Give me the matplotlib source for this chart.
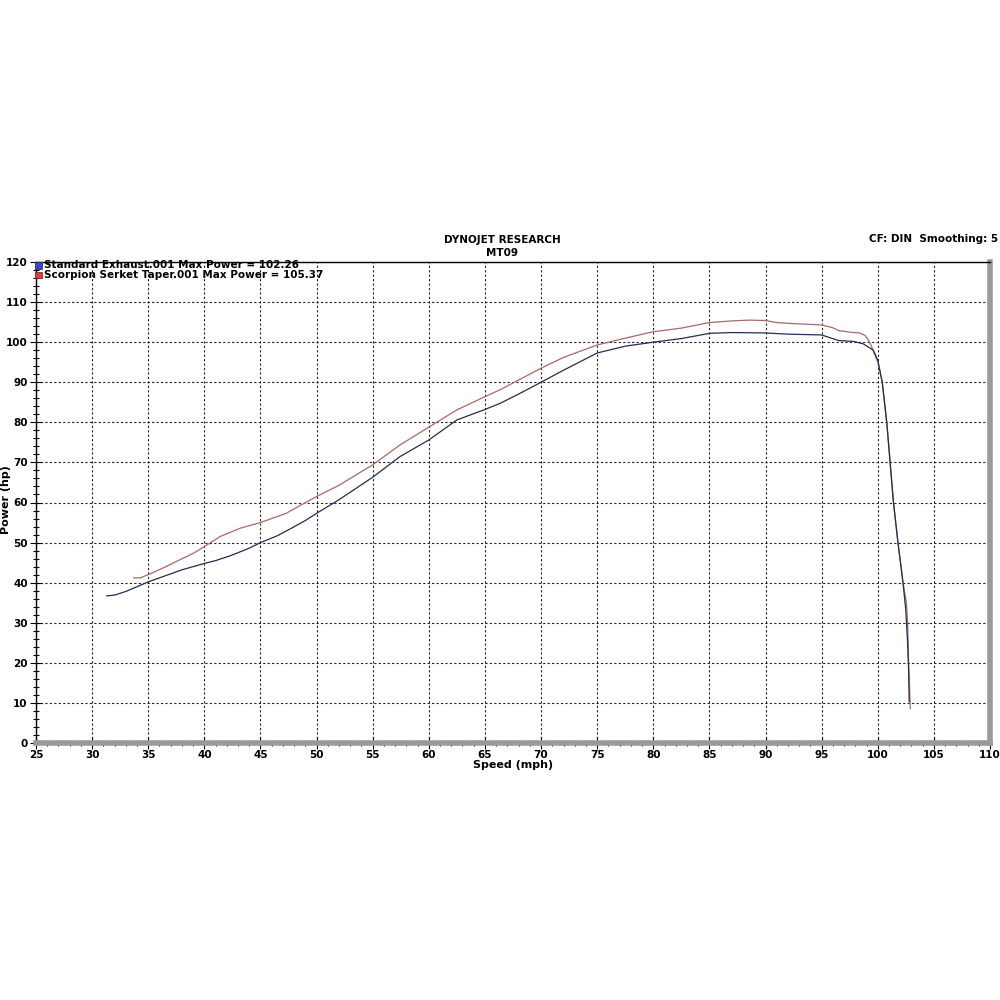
# dyno chart: power vs speed, standard vs Scorpion exhaust
import matplotlib
matplotlib.use("Agg")
import matplotlib.pyplot as plt
from matplotlib.ticker import MultipleLocator
from matplotlib.patches import Rectangle

# standard exhaust run
std_speed = [31.3, 32.0, 33.0, 34.0, 35.0, 36.0, 37.0, 38.0, 40.0, 41.0, 42.3, 44.0,
             45.0, 46.5, 47.9, 49.0, 50.0, 52.0, 53.5, 55.0, 57.4, 60.0, 62.5, 65.0,
             66.4, 68.1, 70.0, 72.0, 75.0, 77.5, 80.0, 82.5, 85.0, 87.0, 90.0, 92.0,
             95.0, 96.5, 97.8, 98.7, 99.6, 100.0, 100.4, 100.8, 101.1, 101.4, 101.8,
             102.25, 102.5, 102.66, 102.75, 102.8]
std_power = [36.7, 36.9, 37.8, 39.0, 40.2, 41.2, 42.2, 43.2, 44.8, 45.5, 46.7, 48.6,
             50.0, 51.7, 53.8, 55.5, 57.3, 60.7, 63.5, 66.3, 71.4, 75.6, 80.6, 83.2,
             84.8, 87.2, 90.0, 93.0, 97.3, 99.0, 100.0, 100.9, 102.2, 102.4, 102.3, 102.0,
             101.8, 100.4, 100.2, 99.6, 98.0, 95.5, 90.0, 80.0, 70.0, 60.0, 50.0,
             40.0, 33.0, 25.0, 18.0, 10.3]

# scorpion serket taper run
sc_speed = [33.7, 34.3, 35.0, 36.5, 37.8, 39.0, 40.0, 41.4, 43.2, 45.0, 46.0, 47.3,
            48.5, 50.0, 52.0, 55.0, 57.4, 60.0, 62.5, 65.0, 66.4, 68.1, 70.0, 72.0,
            75.0, 77.5, 80.0, 82.5, 85.0, 87.0, 88.5, 90.0, 91.0, 92.0, 93.5, 95.0,
            96.0, 96.5, 97.5, 98.4, 98.9, 99.3, 100.0, 100.4, 100.8, 101.1, 101.4,
            101.8, 102.25, 102.55, 102.66, 102.75, 102.9]
sc_power = [41.2, 41.2, 42.0, 43.9, 45.7, 47.3, 49.0, 51.5, 53.6, 55.0, 56.0, 57.3,
            59.2, 61.5, 64.3, 69.4, 74.3, 78.8, 83.1, 86.4, 88.2, 90.7, 93.5, 96.2,
            99.3, 101.0, 102.6, 103.5, 104.9, 105.3, 105.5, 105.4, 104.9, 104.7, 104.5, 104.3,
            103.6, 102.9, 102.5, 102.3, 101.6, 99.9, 95.1, 90.0, 80.0, 70.0, 60.0,
            50.0, 40.0, 35.0, 30.0, 20.0, 8.6]

legend_labels = ["Standard Exhaust.001 Max Power = 102.26",
                 "Scorpion Serket Taper.001 Max Power = 105.37"]

fig = plt.figure(figsize=(10, 10), dpi=100)
ax = fig.add_axes([0.036, 0.257, 0.954, 0.481])

ax.plot(std_speed, std_power, color="#272a58", lw=0.9, zorder=3)
ax.plot(sc_speed, sc_power, color="#a86a66", lw=0.9, zorder=2)

ax.set_xlim(25, 110)
ax.set_ylim(0, 120)
ax.xaxis.set_major_locator(MultipleLocator(5))
ax.xaxis.set_minor_locator(MultipleLocator(1))
ax.yaxis.set_major_locator(MultipleLocator(10))
ax.yaxis.set_minor_locator(MultipleLocator(2))
ax.grid(True, which="major", color="#222222", linestyle=(0, (2, 2)), lw=0.8)
ax.set_axisbelow(True)

ax.tick_params(which="both", direction="inout", color="black", width=0.8,
               labelsize=7.5, pad=1)
ax.tick_params(which="major", length=8)
ax.tick_params(which="minor", length=5)
ax.tick_params(axis="y", pad=2)
for lab in ax.get_xticklabels() + ax.get_yticklabels():
    lab.set_fontweight("bold")

for side in ["left", "top"]:
    ax.spines[side].set_color("black")
    ax.spines[side].set_linewidth(1.0)
for side in ["bottom", "right"]:
    ax.spines[side].set_color("#9a9a9a")
    ax.spines[side].set_linewidth(4)

ax.set_xlabel("Speed (mph)", fontsize=8, fontweight="bold", labelpad=0)
fig.text(0.006, 0.500, "Power (hp)", fontsize=8, fontweight="bold",
         rotation=90, ha="center", va="center")

# legend boxes
ax.add_patch(Rectangle((-0.001, 0.986), 0.007, 0.013, transform=ax.transAxes,
                       facecolor="#3a44d6", edgecolor="#333366", lw=0.6,
                       clip_on=False, zorder=5))
ax.add_patch(Rectangle((-0.001, 0.966), 0.007, 0.013, transform=ax.transAxes,
                       facecolor="#e23a3a", edgecolor="#663333", lw=0.6,
                       clip_on=False, zorder=5))
ax.text(0.008, 0.993, legend_labels[0], transform=ax.transAxes, fontsize=7.5,
        fontweight="bold", va="center", ha="left", zorder=5)
ax.text(0.008, 0.973, legend_labels[1], transform=ax.transAxes, fontsize=7.5,
        fontweight="bold", va="center", ha="left", zorder=5)

fig.text(0.502, 0.760, "DYNOJET RESEARCH", fontsize=7.5, fontweight="bold",
         ha="center", va="center")
fig.text(0.502, 0.747, "MT09", fontsize=7.5, fontweight="bold",
         ha="center", va="center")
fig.text(0.998, 0.761, "CF: DIN  Smoothing: 5", fontsize=7.5, fontweight="bold",
         ha="right", va="center")

fig.savefig("out.png", dpi=100, facecolor="white")
